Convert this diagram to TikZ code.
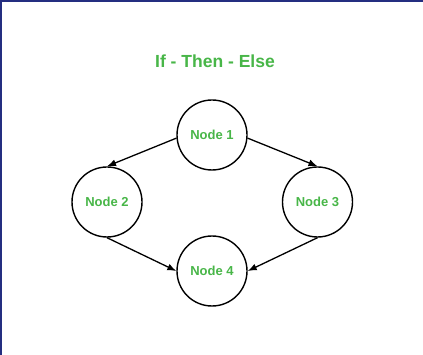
\documentclass[tikz,border=0pt]{standalone}
\usepackage{fontspec}
\setmainfont{Liberation Sans}
\usetikzlibrary{arrows.meta}
\definecolor{labelgreen}{RGB}{72,182,72}
\definecolor{framenavy}{RGB}{36,46,128}
\begin{document}
\begin{tikzpicture}[x=1pt,y=-1pt,
  state/.style={circle, draw=black, line width=1.4pt, minimum size=70pt, inner sep=0pt,
    text=labelgreen, font=\fontsize{13}{15}\selectfont\bfseries},
  flow/.style={-{Latex[length=9pt,width=7pt]}, line width=1.3pt, black}]
  % canvas and frame
  \fill[white] (0,0) rectangle (423,355);
  \useasboundingbox (0,0) rectangle (423,355);
  \fill[framenavy] (0,0) rectangle (423,2);
  \fill[framenavy] (0,0) rectangle (1.5,355);
  % title
  \node[text=labelgreen, font=\fontsize{17.5}{20}\selectfont\bfseries] (title) at (215,61) {If - Then - Else};
  % states
  \node[state] (n1) at (212,135) {Node 1};
  \node[state] (n2) at (107,202) {Node 2};
  \node[state] (n3) at (317.5,202) {Node 3};
  \node[state] (n4) at (212,271) {Node 4};
  % transitions
  \draw[flow] (n1.185) -- (n2.north);
  \draw[flow] (n1.-5) -- (n3.north);
  \draw[flow] (n2.south) -- (n4.west);
  \draw[flow] (n3.south) -- (n4.east);
\end{tikzpicture}
\end{document}
